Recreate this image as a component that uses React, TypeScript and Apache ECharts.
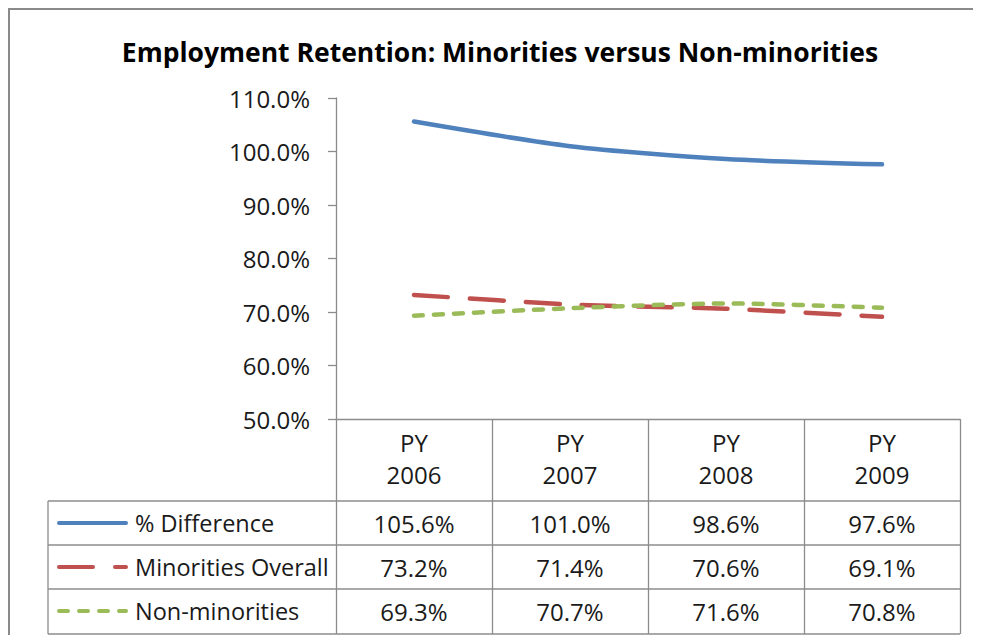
import React, { useEffect, useRef } from "react";
import * as echarts from "echarts";

const chartTitle = "Employment Retention: Minorities versus Non-minorities";
const categories = ["PY\n2006", "PY\n2007", "PY\n2008", "PY\n2009"];
const seriesNames = ["% Difference", "Minorities Overall", "Non-minorities"];
const pctDifference = [105.6, 101.0, 98.6, 97.6];
const minoritiesOverall = [73.2, 71.4, 70.6, 69.1];
const nonMinorities = [69.3, 70.7, 71.6, 70.8];
const yMin = 50;
const yMax = 110;
const yStep = 10;

const FONT = "'Open Sans', 'Noto Sans', sans-serif";
const colors = ["#4F81BD", "#C0504D", "#9BBB59"];
const dashes: (number[] | "solid")[] = ["solid", [34, 22], [9, 11]];
const seriesData = [pctDifference, minoritiesOverall, nonMinorities];

const fmt = (v: number) => `${v.toFixed(1)}%`;

export default function App() {
  const ref = useRef<HTMLDivElement>(null);
  useEffect(() => {
    if (!ref.current) return;
    const chart = echarts.init(ref.current, undefined, { renderer: "svg" });

    const gridLeft = 328;
    const gridTop = 90;
    const gridWidth = 624;
    const gridHeight = 321;
    const axisY = gridTop + gridHeight; // 411
    const tableLeft = 40;
    const tableRight = gridLeft + gridWidth;
    const rowLines = [493, 537, 581, 626];
    const rowCenters = [515, 559, 603];
    const labelFont = 24;
    const gray = "#8c8c8c";
    const textColor = "#1a1a1a";

    const graphic: any[] = [
      {
        type: "text",
        x: 492,
        y: 44,
        style: {
          text: chartTitle,
          font: `bold 26.5px ${FONT}`,
          fill: "#000",
          align: "center",
          verticalAlign: "middle",
        },
      },
      {
        type: "line",
        shape: { x1: tableLeft, y1: rowLines[0], x2: tableLeft, y2: rowLines[3] },
        style: { stroke: gray, lineWidth: 1.3 },
      },
    ];
    rowLines.forEach((y) => {
      graphic.push({
        type: "line",
        shape: { x1: tableLeft, y1: y, x2: tableRight, y2: y },
        style: { stroke: gray, lineWidth: 1.3 },
      });
    });
    seriesNames.forEach((name, i) => {
      const cy = rowCenters[i];
      graphic.push({
        type: "line",
        shape: { x1: 51, y1: cy, x2: 118, y2: cy },
        style: {
          stroke: colors[i],
          lineWidth: 4,
          lineCap: "round",
          lineDash: dashes[i] === "solid" ? null : dashes[i],
        },
      });
      graphic.push({
        type: "text",
        x: 127,
        y: cy,
        style: {
          text: name,
          font: `${labelFont - 0.5}px ${FONT}`,
          fill: textColor,
          align: "left",
          verticalAlign: "middle",
        },
      });
    });

    const valueAxes = seriesData.map((arr, i) => ({
      type: "category",
      gridIndex: 0,
      position: "bottom",
      data: arr.map(fmt),
      boundaryGap: true,
      axisLine: { show: false },
      axisTick: { show: false },
      axisLabel: {
        margin: rowCenters[i] - axisY,
        verticalAlign: "middle",
        fontFamily: FONT,
        fontSize: labelFont,
        color: textColor,
      },
    }));

    chart.setOption({
      animation: false,
      backgroundColor: "#fff",
      grid: { left: gridLeft, top: gridTop, width: gridWidth, height: gridHeight },
      xAxis: [
        {
          type: "category",
          data: categories,
          boundaryGap: true,
          axisLine: { show: true, lineStyle: { color: gray, width: 1.3 } },
          axisTick: {
            show: true,
            length: rowLines[3] - axisY,
            lineStyle: { color: gray, width: 1.3 },
          },
          axisLabel: {
            margin: 7,
            verticalAlign: "top",
            lineHeight: 32,
            fontFamily: FONT,
            fontSize: labelFont,
            color: textColor,
          },
        },
        ...valueAxes,
      ],
      yAxis: {
        type: "value",
        min: yMin,
        max: yMax,
        interval: yStep,
        splitLine: { show: false },
        axisLine: { show: true, lineStyle: { color: gray, width: 1.3 } },
        axisTick: { show: true, length: 8, lineStyle: { color: gray, width: 1.3 } },
        axisLabel: {
          margin: 26,
          formatter: (v: number) => fmt(v),
          fontFamily: FONT,
          fontSize: labelFont,
          color: textColor,
        },
      },
      series: seriesNames.map((name, i) => ({
        name,
        type: "line",
        data: seriesData[i],
        xAxisIndex: 0,
        yAxisIndex: 0,
        smooth: 0.25,
        symbol: "none",
        lineStyle: {
          color: colors[i],
          width: 4.5,
          type: dashes[i],
          cap: "round",
        },
      })),
      graphic,
    });
    return () => chart.dispose();
  }, []);
  return (
    <div style={{ position: "relative", width: 965, height: 627 }}>
      <div ref={ref} style={{ width: 965, height: 627 }} />
      <div
        style={{
          position: "absolute",
          left: 0,
          top: 0,
          width: 973,
          height: 635,
          boxSizing: "border-box",
          borderTop: "2px solid #8a8a8a",
          borderLeft: "2px solid #8a8a8a",
          pointerEvents: "none",
        }}
      />
    </div>
  );
}
